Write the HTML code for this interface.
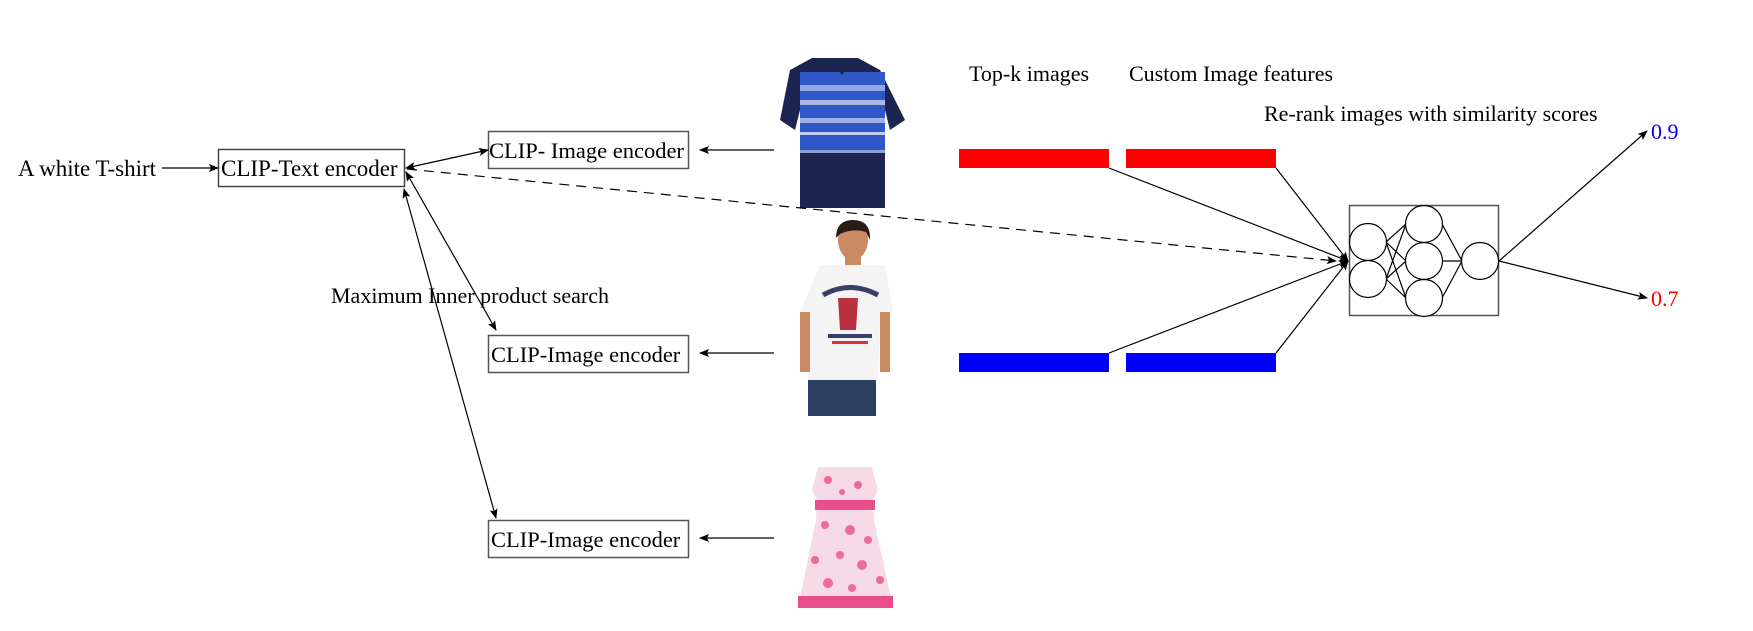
<!DOCTYPE html>
<html><head><meta charset="utf-8"><style>
html,body{margin:0;padding:0;background:#fff;}
svg{display:block;}
text{font-family:"Liberation Serif",serif;font-size:22px;fill:#000;}
</style></head><body>
<svg width="1753" height="631" viewBox="0 0 1753 631" xmlns="http://www.w3.org/2000/svg">
<defs>
<marker id="a" markerWidth="10" markerHeight="8" refX="9" refY="4" orient="auto" markerUnits="userSpaceOnUse"><path d="M0,0 L10,4 L0,8 L2,4 z" fill="#000"/></marker>
<marker id="s" markerWidth="10" markerHeight="8" refX="1" refY="4" orient="auto" markerUnits="userSpaceOnUse"><path d="M10,0 L0,4 L10,8 L8,4 z" fill="#000"/></marker>
</defs>

<!-- left text -->
<text x="18" y="176" style="font-size:23px">A white T-shirt</text>
<line x1="162" y1="168" x2="218" y2="168" stroke="#000" stroke-width="1.2" marker-end="url(#a)"/>
<rect x="218.5" y="149.5" width="186" height="37" fill="none" stroke="#444" stroke-width="1.5"/>
<text x="221" y="176" style="font-size:23px">CLIP-Text encoder</text>

<!-- encoders -->
<rect x="488.5" y="131.5" width="200" height="37" fill="none" stroke="#555" stroke-width="1.5"/>
<text x="489" y="158" style="font-size:22.5px">CLIP- Image encoder</text>
<rect x="488.5" y="335.5" width="200" height="37" fill="none" stroke="#555" stroke-width="1.5"/>
<text x="491" y="362" style="font-size:22.5px">CLIP-Image encoder</text>
<rect x="488.5" y="520.5" width="200" height="37" fill="none" stroke="#555" stroke-width="1.5"/>
<text x="491" y="547" style="font-size:22.5px">CLIP-Image encoder</text>

<text x="331" y="303" style="font-size:22px">Maximum Inner product search</text>

<!-- arrows text encoder <-> image encoders -->
<line x1="406" y1="168" x2="488" y2="150" stroke="#000" stroke-width="1.2" marker-start="url(#s)" marker-end="url(#a)"/>
<line x1="406" y1="172" x2="496" y2="330" stroke="#000" stroke-width="1.2" marker-start="url(#s)" marker-end="url(#a)"/>
<line x1="404" y1="189" x2="496" y2="518" stroke="#000" stroke-width="1.2" marker-start="url(#s)" marker-end="url(#a)"/>

<!-- image -> encoder arrows -->
<line x1="774" y1="150" x2="700" y2="150" stroke="#000" stroke-width="1.2" marker-end="url(#a)"/>
<line x1="774" y1="353" x2="700" y2="353" stroke="#000" stroke-width="1.2" marker-end="url(#a)"/>
<line x1="774" y1="538" x2="700" y2="538" stroke="#000" stroke-width="1.2" marker-end="url(#a)"/>

<!-- polo shirt -->
<g>
<path d="M812,58 L858,58 L880,70 L905,120 L890,130 L885,110 L885,208 L800,208 L800,110 L795,130 L780,120 L790,70 Z" fill="#1b2550"/>
<path d="M800,72 L885,72 L885,150 L800,150 Z" fill="#2f57c8"/>
<rect x="800" y="85" width="85" height="6" fill="#8fa8e8"/>
<rect x="800" y="100" width="85" height="5" fill="#a7b8e6"/>
<rect x="800" y="118" width="85" height="5" fill="#9fb2e6"/>
<rect x="800" y="132" width="85" height="3" fill="#c0ccec"/>
<rect x="800" y="150" width="85" height="3" fill="#8f9fd0"/>
<path d="M828,58 L842,75 L856,58 Z" fill="#1b2550"/>
</g>

<!-- man -->
<g>
<ellipse cx="853" cy="240" rx="15" ry="20" fill="#c98a64"/>
<path d="M836,238 Q836,220 853,220 Q871,220 870,240 L866,232 Q853,228 840,234 Z" fill="#2a1d18"/>
<rect x="845" y="256" width="16" height="12" fill="#c98a64"/>
<path d="M820,265 L885,265 L893,312 L880,315 L878,380 L808,380 L806,315 L800,312 Z" fill="#f4f4f4"/>
<rect x="800" y="312" width="10" height="60" fill="#c98a64"/>
<rect x="880" y="312" width="10" height="60" fill="#c98a64"/>
<path d="M823,295 Q850,280 878,295" stroke="#3a3f6a" stroke-width="5" fill="none"/>
<path d="M838,298 L858,298 L856,330 L840,330 Z" fill="#b8323f"/>
<rect x="828" y="334" width="44" height="4" fill="#3a3f6a"/>
<rect x="832" y="341" width="36" height="3" fill="#d33"/>
<rect x="808" y="380" width="68" height="36" fill="#2c4061"/>
</g>

<!-- dress -->
<g>
<path d="M818,467 L872,467 L878,490 L873,500 L874,520 L893,607 L798,607 L816,520 L817,500 L812,490 Z" fill="#f6dbe6"/>
<rect x="815" y="500" width="60" height="10" fill="#e84f8a"/>
<rect x="798" y="596" width="95" height="12" fill="#ea4d8c"/>
<g fill="#ec6a9c">
<circle cx="828" cy="480" r="4"/><circle cx="858" cy="485" r="4"/><circle cx="842" cy="492" r="3"/>
<circle cx="825" cy="525" r="4"/><circle cx="850" cy="530" r="5"/><circle cx="868" cy="540" r="4"/>
<circle cx="815" cy="560" r="4"/><circle cx="840" cy="555" r="4"/><circle cx="862" cy="565" r="5"/>
<circle cx="880" cy="580" r="4"/><circle cx="828" cy="583" r="5"/><circle cx="852" cy="588" r="4"/>
</g>
</g>

<!-- dashed line -->
<line x1="407" y1="169" x2="1336" y2="261" stroke="#000" stroke-width="1.2" stroke-dasharray="10,7" marker-end="url(#a)"/>

<!-- labels -->
<text x="969" y="81">Top-k images</text>
<text x="1129" y="81">Custom Image features</text>
<text x="1264" y="121">Re-rank images with similarity scores</text>

<!-- bars -->
<rect x="959" y="149" width="150" height="19" fill="#ff0000"/>
<rect x="1126" y="149" width="150" height="19" fill="#ff0000"/>
<rect x="959" y="353" width="150" height="19" fill="#0000ff"/>
<rect x="1126" y="353" width="150" height="19" fill="#0000ff"/>

<!-- lines to NN -->
<g stroke="#000" stroke-width="1.2">
<line x1="1109" y1="168" x2="1348" y2="261" marker-end="url(#a)"/>
<line x1="1276" y1="168" x2="1348" y2="261" marker-end="url(#a)"/>
<line x1="1109" y1="353" x2="1348" y2="261" marker-end="url(#a)"/>
<line x1="1276" y1="353" x2="1348" y2="261" marker-end="url(#a)"/>
</g>

<!-- NN -->
<rect x="1349.5" y="205.5" width="149" height="110" fill="#fff" stroke="#555" stroke-width="1.5"/>
<g stroke="#000" stroke-width="1.2" fill="none">
<line x1="1386" y1="242" x2="1406" y2="224"/><line x1="1386" y1="242" x2="1406" y2="261"/><line x1="1386" y1="242" x2="1406" y2="298"/>
<line x1="1386" y1="279" x2="1406" y2="224"/><line x1="1386" y1="279" x2="1406" y2="261"/><line x1="1386" y1="279" x2="1406" y2="298"/>
<line x1="1442" y1="224" x2="1462" y2="261"/><line x1="1442" y1="261" x2="1462" y2="261"/><line x1="1442" y1="298" x2="1462" y2="261"/>
<circle cx="1368" cy="242" r="18.5" fill="#fff"/>
<circle cx="1368" cy="279" r="18.5" fill="#fff"/>
<circle cx="1424" cy="224" r="18.5" fill="#fff"/>
<circle cx="1424" cy="261" r="18.5" fill="#fff"/>
<circle cx="1424" cy="298" r="18.5" fill="#fff"/>
<circle cx="1480" cy="261" r="18.5" fill="#fff"/>
<line x1="1499" y1="261" x2="1647" y2="131" marker-end="url(#a)"/>
<line x1="1499" y1="261" x2="1647" y2="298" marker-end="url(#a)"/>
</g>
<text x="1651" y="139" style="fill:#0000ff">0.9</text>
<text x="1651" y="306" style="fill:#ff0000">0.7</text>
</svg>
</body></html>
